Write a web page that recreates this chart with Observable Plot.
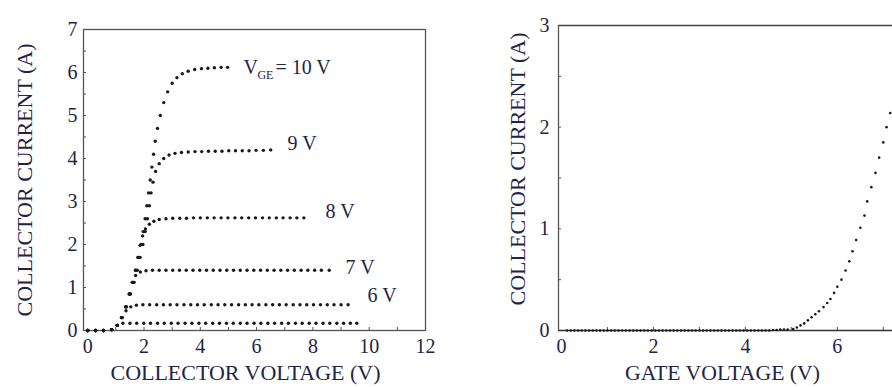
<!DOCTYPE html>
<html><head><meta charset="utf-8">
<script src="https://cdn.jsdelivr.net/npm/d3@7"></script>
<script src="https://cdn.jsdelivr.net/npm/@observablehq/plot@0.6"></script>
<style>
html,body{margin:0;padding:0;background:#fff;}
#wrap{position:relative;width:892px;height:387px;overflow:hidden;background:#fff;}
#left{position:absolute;left:0;top:0;}
#right{position:absolute;left:445px;top:0;}
</style></head><body><div id="wrap"><div id="left"></div><div id="right"></div></div>
<script>
// ---------- Output characteristics (collector voltage V, collector current A) ----------
const curve10 = [[0,0],[0.28,0],[0.56,0],[0.85,0.02],[1.05,0.12],[1.2,0.3],[1.34,0.55],[1.48,0.85],[1.6,1.12],[1.7,1.4],[1.8,1.7],[1.89,2.0],[1.97,2.3],[2.04,2.6],[2.1,2.9],[2.16,3.2],[2.22,3.5],[2.28,3.8],[2.34,4.1],[2.4,4.4],[2.48,4.7],[2.58,5.0],[2.7,5.3],[2.84,5.55],[3.0,5.75],[3.17,5.88],[3.36,5.97],[3.57,6.03],[3.8,6.07],[4.04,6.09],[4.27,6.1],[4.5,6.11],[4.74,6.12],[4.97,6.12]];
const curve9 = [[0,0],[0.28,0],[0.56,0],[0.85,0.02],[1.05,0.12],[1.22,0.3],[1.38,0.55],[1.52,0.85],[1.65,1.12],[1.76,1.4],[1.86,1.7],[1.96,2.0],[2.04,2.3],[2.12,2.6],[2.19,2.9],[2.25,3.2],[2.32,3.45],[2.41,3.7],[2.54,3.88],[2.7,4.0],[2.89,4.08],[3.1,4.12],[3.33,4.14],[3.57,4.15],[3.81,4.16],[4.05,4.16],[4.29,4.17],[4.53,4.17],[4.77,4.17],[5.01,4.18],[5.25,4.18],[5.49,4.18],[5.73,4.18],[5.98,4.19],[6.24,4.19],[6.5,4.2]];
const curve8 = [[0,0],[0.28,0],[0.56,0],[0.85,0.02],[1.05,0.12],[1.22,0.3],[1.37,0.55],[1.5,0.85],[1.61,1.12],[1.7,1.4],[1.78,1.7],[1.86,1.98],[1.95,2.2],[2.05,2.36],[2.19,2.47],[2.35,2.54],[2.54,2.58],[2.78,2.6],[3.02,2.61],[3.27,2.61],[3.51,2.61],[3.76,2.62],[4.0,2.62],[4.25,2.62],[4.49,2.62],[4.74,2.62],[4.98,2.62],[5.23,2.62],[5.47,2.62],[5.72,2.62],[5.96,2.62],[6.21,2.62],[6.45,2.62],[6.7,2.62],[6.94,2.62],[7.19,2.62],[7.43,2.62],[7.68,2.62]];
const curve7 = [[0,0],[0.28,0],[0.56,0],[0.85,0.02],[1.05,0.12],[1.21,0.3],[1.35,0.55],[1.47,0.85],[1.58,1.12],[1.7,1.28],[1.87,1.36],[2.07,1.39],[2.3,1.4],[2.54,1.4],[2.78,1.4],[3.02,1.4],[3.26,1.4],[3.5,1.4],[3.74,1.4],[3.98,1.4],[4.22,1.4],[4.46,1.4],[4.7,1.4],[4.94,1.4],[5.18,1.4],[5.42,1.4],[5.66,1.4],[5.9,1.4],[6.14,1.4],[6.38,1.4],[6.62,1.4],[6.86,1.4],[7.1,1.4],[7.34,1.4],[7.58,1.4],[7.82,1.4],[8.06,1.4],[8.3,1.4],[8.58,1.4]];
const curve6 = [[0,0],[0.28,0],[0.56,0],[0.85,0.02],[1.05,0.12],[1.2,0.3],[1.36,0.46],[1.53,0.55],[1.73,0.59],[1.96,0.6],[2.2,0.6],[2.45,0.6],[2.69,0.6],[2.93,0.6],[3.17,0.6],[3.42,0.6],[3.66,0.6],[3.9,0.6],[4.14,0.6],[4.39,0.6],[4.63,0.6],[4.87,0.6],[5.11,0.6],[5.36,0.6],[5.6,0.6],[5.84,0.6],[6.08,0.6],[6.33,0.6],[6.57,0.6],[6.81,0.6],[7.05,0.6],[7.3,0.6],[7.54,0.6],[7.78,0.6],[8.02,0.6],[8.27,0.6],[8.51,0.6],[8.75,0.6],[9.0,0.6],[9.25,0.6]];
const curve5 = [[0,0],[0.28,0],[0.56,0],[0.85,0.02],[1.05,0.12],[1.25,0.17],[1.5,0.17],[1.74,0.17],[1.99,0.17],[2.23,0.17],[2.48,0.17],[2.72,0.17],[2.97,0.17],[3.21,0.17],[3.46,0.17],[3.7,0.17],[3.95,0.17],[4.19,0.17],[4.44,0.17],[4.68,0.17],[4.93,0.17],[5.17,0.17],[5.42,0.17],[5.66,0.17],[5.91,0.17],[6.15,0.17],[6.4,0.17],[6.64,0.17],[6.89,0.17],[7.13,0.17],[7.38,0.17],[7.62,0.17],[7.87,0.17],[8.11,0.17],[8.36,0.17],[8.6,0.17],[8.85,0.17],[9.09,0.17],[9.33,0.17],[9.56,0.17]];
const gateVoltages = [10, 9, 8, 7, 6, 5];
const curveLabels = [
  {v: 7.1, i: 4.35, t: "9 V"},
  {v: 8.45, i: 2.77, t: "8 V"},
  {v: 9.16, i: 1.47, t: "7 V"},
  {v: 9.94, i: 0.81, t: "6 V"}
];
const vgeLabel = {v: 5.53, i: 6.12, main: "V", sub: "GE", rest: "= 10 V"};
const collectorTicks = [0, 2, 4, 6, 8, 10, 12];
const collectorMinor = [1, 2, 3, 4, 5, 6, 7, 8, 9, 10, 11];
const currentTicksL = [0, 1, 2, 3, 4, 5, 6, 7];
const currentMinorL = [0.5, 1, 1.5, 2, 2.5, 3, 3.5, 4, 4.5, 5, 5.5, 6, 6.5];
const collectorDomain = [-0.15, 12];
const currentDomainL = [0, 7];

// ---------- Transfer characteristic (gate voltage V, collector current A) ----------
const transfer = [[0.12,0],[0.2,0],[0.28,0],[0.36,0],[0.44,0],[0.52,0],[0.6,0],[0.68,0],[0.76,0],[0.84,0],[0.92,0],[1.0,0],[1.08,0],[1.16,0],[1.24,0],[1.32,0],[1.4,0],[1.48,0],[1.56,0],[1.64,0],[1.72,0],[1.8,0],[1.88,0],[1.96,0],[2.04,0],[2.12,0],[2.2,0],[2.28,0],[2.36,0],[2.44,0],[2.52,0],[2.6,0],[2.68,0],[2.76,0],[2.84,0],[2.92,0],[3.0,0],[3.08,0],[3.16,0],[3.24,0],[3.32,0],[3.4,0],[3.48,0],[3.56,0],[3.64,0],[3.72,0],[3.8,0],[3.88,0],[3.96,0],[4.04,0],[4.12,0],[4.2,0],[4.28,0],[4.36,0],[4.44,0],[4.52,0],[4.6,0.005],[4.68,0.005],[4.76,0.01],[4.84,0.01],[4.92,0.01],[5.04,0.015],[5.12,0.03],[5.2,0.05],[5.28,0.07],[5.36,0.1],[5.44,0.13],[5.52,0.16],[5.6,0.19],[5.7,0.23],[5.78,0.27],[5.85,0.31],[5.93,0.37],[6.0,0.43],[6.09,0.5],[6.18,0.59],[6.26,0.68],[6.33,0.78],[6.41,0.89],[6.5,1.01],[6.59,1.13],[6.65,1.27],[6.74,1.41],[6.83,1.55],[6.91,1.7],[7.0,1.85],[7.07,2.0],[7.15,2.14]];
const gateTicks = [0, 2, 4, 6];
const gateMinor = [1, 2, 3, 4, 5, 6, 7];
const currentTicksR = [0, 1, 2, 3];
const currentMinorR = [0.5, 1, 1.5, 2, 2.5];
const gateDomain = [-0.065, 7.2];
const currentDomainR = [0, 3];

const titles = {
  leftX: "COLLECTOR VOLTAGE (V)",
  leftY: "COLLECTOR CURRENT (A)",
  rightX: "GATE VOLTAGE (V)",
  rightY: "COLLECTOR CURRENT (A)"
};

// ---------- styles ----------
const FONT = "'Liberation Serif', 'Times New Roman', serif";
const TEXT = "#1f2545";
const DOT = "#1a1a1a";
const LINE = "#555";
const intFmt = d => String(d);

const curves = [curve10, curve9, curve8, curve7, curve6, curve5];
const outputData = curves.flatMap((c, k) => c.map(([v, i]) => ({v, i, vge: gateVoltages[k]})));

const leftPlot = Plot.plot({
  width: 445, height: 387,
  marginLeft: 83, marginRight: 20, marginTop: 29, marginBottom: 57,
  style: {fontFamily: FONT, fontSize: "20px", color: TEXT, background: "white", overflow: "visible"},
  x: {domain: collectorDomain, label: null},
  y: {domain: currentDomainL, label: null},
  marks: [
    Plot.axisX({ticks: collectorTicks, tickSize: 0, tickPadding: 8, tickFormat: intFmt, label: null}),
    Plot.axisX({ticks: collectorMinor, tickSize: 3, dy: -3, tickFormat: () => "", label: null, stroke: LINE}),
    Plot.axisY({ticks: currentTicksL, tickSize: 0, tickPadding: 6, tickFormat: intFmt, label: null}),
    Plot.axisY({ticks: currentMinorL, tickSize: 3, dx: 3, tickFormat: () => "", label: null, stroke: LINE}),
    Plot.frame({stroke: LINE, strokeWidth: 1.3}),
    Plot.dot(outputData, {x: "v", y: "i", r: 1.7, fill: DOT, stroke: null}),
    Plot.text(curveLabels, {x: "v", y: "i", text: "t", textAnchor: "start", fontSize: 20}),
    Plot.text([vgeLabel], {x: "v", y: "i", text: "main", textAnchor: "start", fontSize: 20}),
    Plot.text([vgeLabel], {x: "v", y: "i", text: "sub", textAnchor: "start", fontSize: 12, dx: 14, dy: 8}),
    Plot.text([vgeLabel], {x: "v", y: "i", text: "rest", textAnchor: "start", fontSize: 20, dx: 32}),
    Plot.text([titles.leftX], {text: d => d, frameAnchor: "bottom", textAnchor: "middle", dy: 49, dx: -9, fontSize: 20}),
    Plot.text([titles.leftY], {text: d => d, frameAnchor: "left", textAnchor: "middle", rotate: -90, dx: -58, fontSize: 20})
  ]
});
document.getElementById("left").appendChild(leftPlot);

const gateData = transfer.map(([v, i]) => ({v, i}));
const rightPlot = Plot.plot({
  width: 447, height: 387,
  marginLeft: 113, marginRight: 0, marginTop: 25, marginBottom: 57,
  style: {fontFamily: FONT, fontSize: "20px", color: TEXT, background: "white", overflow: "visible"},
  x: {domain: gateDomain, label: null},
  y: {domain: currentDomainR, label: null},
  marks: [
    Plot.axisX({ticks: gateTicks, tickSize: 0, tickPadding: 8, tickFormat: intFmt, label: null}),
    Plot.axisX({ticks: gateMinor, tickSize: 3, dy: -3, tickFormat: () => "", label: null, stroke: LINE}),
    Plot.axisY({ticks: currentTicksR, tickSize: 0, tickPadding: 9, tickFormat: intFmt, label: null}),
    Plot.axisY({ticks: currentMinorR, tickSize: 3, dx: 3, tickFormat: () => "", label: null, stroke: LINE}),
    Plot.ruleY([currentDomainR[1]], {stroke: "#444", strokeWidth: 1.3}),
    Plot.ruleY([currentDomainR[0]], {stroke: "#333", strokeWidth: 1.3}),
    Plot.ruleX([gateDomain[0]], {stroke: LINE, strokeWidth: 1.3}),
    Plot.dot(gateData, {x: "v", y: "i", r: 1.3, fill: DOT, stroke: null}),
    Plot.text([titles.rightX], {text: d => d, frameAnchor: "bottom", textAnchor: "middle", dy: 49, dx: -3, fontSize: 20}),
    Plot.text([titles.rightY], {text: d => d, frameAnchor: "left", textAnchor: "middle", rotate: -90, dx: -40, dy: -9, fontSize: 20})
  ]
});
document.getElementById("right").appendChild(rightPlot);

// stretch the axis titles to the widths seen in the reference scan
const titleLengths = [[leftPlot, titles.leftX, 270], [leftPlot, titles.leftY, 273], [rightPlot, titles.rightX, 195], [rightPlot, titles.rightY, 273]];
for (const [svg, str, len] of titleLengths) {
  d3.select(svg).selectAll("text").filter(function() { return this.textContent === str; })
    .attr("textLength", len).attr("lengthAdjust", "spacingAndGlyphs");
}
</script></body></html>
